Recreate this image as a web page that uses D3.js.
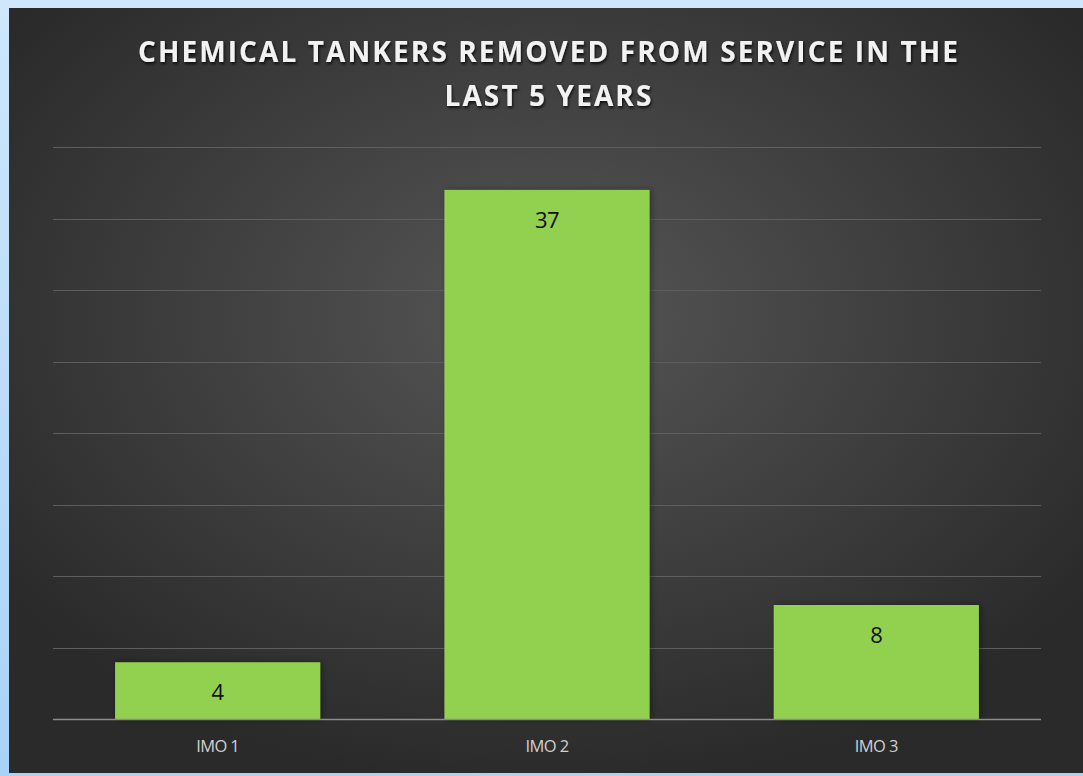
<!DOCTYPE html>
<html>
<head>
<meta charset="utf-8">
<script src="https://cdn.jsdelivr.net/npm/d3@7"></script>
<style>
  html, body { margin: 0; padding: 0; background: #ffffff; }
  svg { display: block; }
</style>
</head>
<body>
<script>
// data
const categories = ['IMO 1', 'IMO 2', 'IMO 3'];
const values = [4, 37, 8];
const gridTicks = [0, 5, 10, 15, 20, 25, 30, 35, 40];
const titleLines = ['CHEMICAL TANKERS REMOVED FROM SERVICE IN THE', 'LAST 5 YEARS'];

const width = 1083, height = 776;
const svg = d3.select('body').append('svg').attr('width', width).attr('height', height);
const defs = svg.append('defs');

// frame glow
const glow = defs.append('linearGradient').attr('id', 'glow').attr('x1', 0).attr('y1', 0).attr('x2', 0).attr('y2', 1);
glow.append('stop').attr('offset', '0%').attr('stop-color', '#cfe6fb');
glow.append('stop').attr('offset', '100%').attr('stop-color', '#a9d2f7');
svg.append('rect').attr('width', width).attr('height', height).attr('fill', 'url(#glow)');

// background radial gradient
const bg = defs.append('radialGradient').attr('id', 'bg')
  .attr('cx', '50%').attr('cy', '40%').attr('r', '62%');
bg.append('stop').attr('offset', '0%').attr('stop-color', '#565656');
bg.append('stop').attr('offset', '100%').attr('stop-color', '#2a2a2a');
svg.append('rect').attr('x', 9).attr('y', 8).attr('width', width - 9).attr('height', 765).attr('fill', 'url(#bg)');

const shadow = defs.append('filter').attr('id', 'tshadow').attr('x', '-10%').attr('y', '-30%').attr('width', '120%').attr('height', '160%');
shadow.append('feDropShadow').attr('dx', 1).attr('dy', 2).attr('stdDeviation', 1.6).attr('flood-color', '#000').attr('flood-opacity', 0.8);

const barShadow = defs.append('filter').attr('id', 'bshadow').attr('x', '-10%').attr('y', '-10%').attr('width', '125%').attr('height', '120%');
barShadow.append('feDropShadow').attr('dx', 2).attr('dy', 0).attr('stdDeviation', 3).attr('flood-color', '#000').attr('flood-opacity', 0.35);

// title
svg.append('g').selectAll('text')
  .data(titleLines)
  .enter()
    .append('text')
    .attr('x', 549)
    .attr('y', (d, i) => 62 + i * 44)
    .attr('text-anchor', 'middle')
    .attr('fill', '#f2f2f2')
    .attr('font-family', '"Open Sans", sans-serif')
    .attr('font-weight', 700)
    .attr('font-size', 28)
    .attr('letter-spacing', 2.1)
    .attr('filter', 'url(#tshadow)')
    .text(d => d);

// scales
const x = d3.scaleBand().domain(categories).range([53, 1041]).paddingInner(0.377).paddingOuter(0.1885);
const y = d3.scaleLinear().domain([0, 40]).range([719.5, 147]);

// gridlines
svg.append('g').selectAll('line')
  .data(gridTicks.filter(d => d > 0))
  .enter()
    .append('line')
    .attr('x1', 53).attr('x2', 1041)
    .attr('y1', d => Math.round(y(d)) + 0.5).attr('y2', d => Math.round(y(d)) + 0.5)
    .attr('stroke', '#5e5e5e')
    .attr('stroke-width', 1);

// bars
svg.append('g').selectAll('rect')
  .data(values)
  .enter()
    .append('rect')
    .attr('x', (d, i) => x(categories[i]))
    .attr('y', d => y(d))
    .attr('width', x.bandwidth())
    .attr('height', d => y(0) - y(d))
    .attr('fill', '#92d050')
    .attr('filter', 'url(#bshadow)');

// baseline
svg.append('line')
  .attr('x1', 53).attr('x2', 1041)
  .attr('y1', y(0)).attr('y2', y(0))
  .attr('stroke', '#8c8c8c')
  .attr('stroke-width', 1.5);

// value labels
svg.append('g').selectAll('text')
  .data(values)
  .enter()
    .append('text')
    .attr('x', (d, i) => x(categories[i]) + x.bandwidth() / 2)
    .attr('y', d => y(d) + 38)
    .attr('text-anchor', 'middle')
    .attr('fill', '#111')
    .attr('font-family', '"Open Sans", sans-serif')
    .attr('font-size', 22)
    .attr('letter-spacing', -0.5)
    .text(d => d);

// x axis labels
svg.append('g').selectAll('text')
  .data(categories)
  .enter()
    .append('text')
    .attr('x', d => x(d) + x.bandwidth() / 2)
    .attr('y', 752)
    .attr('text-anchor', 'middle')
    .attr('fill', '#d0d0d0')
    .attr('font-family', '"Open Sans", sans-serif')
    .attr('font-size', 16.5)
    .attr('letter-spacing', -0.6)
    .text(d => d);
</script>
</body>
</html>
